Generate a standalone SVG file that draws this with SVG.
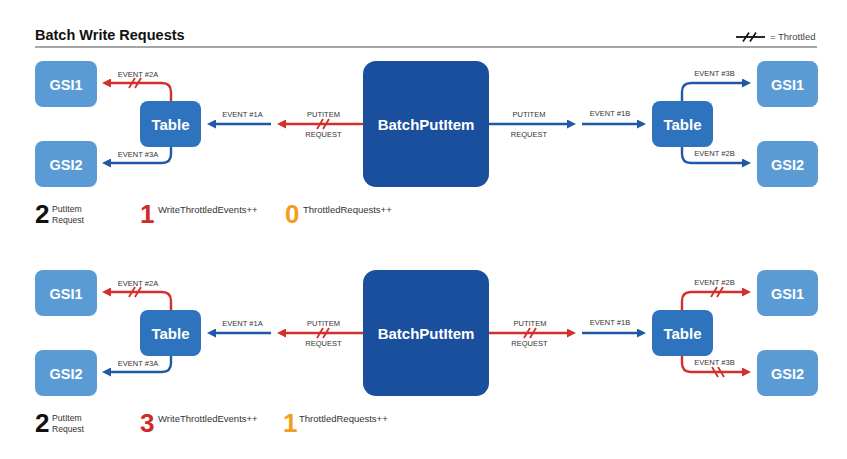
<svg xmlns="http://www.w3.org/2000/svg" width="847" height="459" viewBox="0 0 847 459">
<style>
.bg{fill:#ffffff}
.title{font-family:"Liberation Sans",Arial,sans-serif;font-size:14.5px;font-weight:bold;fill:#111}
.legend{font-family:"Liberation Sans",Arial,sans-serif;font-size:9.5px;fill:#444}
.gsi{fill:#5b9bd5}
.tbl{fill:#2e73bd}
.bpi{fill:#1a4f9d}
.nl{font-family:"Liberation Sans",Arial,sans-serif;font-weight:bold;fill:#ffffff;text-anchor:middle}
.sl{font-family:"Liberation Sans",Arial,sans-serif;font-size:7.5px;fill:#333;text-anchor:middle}
.blue{fill:none;stroke:#1f5aa6;stroke-width:2.4}
.red{fill:none;stroke:#d2302d;stroke-width:2.4}
.rs{stroke:#d2302d;stroke-width:1.8;fill:none}
.big{font-family:"Liberation Sans",Arial,sans-serif;font-size:26px;font-weight:bold}
.ct{font-family:"Liberation Sans",Arial,sans-serif;font-size:9.5px;fill:#333}
.ct2{font-family:"Liberation Sans",Arial,sans-serif;font-size:8.6px;fill:#333}
</style>
<defs>
<marker id="ab" viewBox="0 0 10 10" refX="4" refY="5" markerWidth="9" markerHeight="9" markerUnits="userSpaceOnUse" orient="auto"><path d="M0,0 L10,5 L0,10 z" fill="#1f5aa6"/></marker>
<marker id="ar" viewBox="0 0 10 10" refX="4" refY="5" markerWidth="9" markerHeight="9" markerUnits="userSpaceOnUse" orient="auto"><path d="M0,0 L10,5 L0,10 z" fill="#d2302d"/></marker>
</defs>
<rect class="bg" x="0" y="0" width="847" height="459"/>
<g id="header">
<text class="title" x="35" y="39.5">Batch Write Requests</text>
<line x1="35" y1="47" x2="817" y2="47" stroke="#8a8a8a" stroke-width="1.5"/>
<line x1="736" y1="37" x2="765" y2="37" stroke="#111" stroke-width="1.8"/>
<line x1="743" y1="41.5" x2="749" y2="32.5" stroke="#111" stroke-width="1.6"/>
<line x1="750" y1="41.5" x2="756" y2="32.5" stroke="#111" stroke-width="1.6"/>
<text class="legend" x="770" y="40">= Throttled</text>
</g>

<g id="row1">
<g id="r1-gsi1-left"><rect class="gsi" x="35" y="61" width="62" height="46" rx="8"/><text class="nl" x="66" y="89.5" font-size="14.5">GSI1</text></g>
<g id="r1-gsi2-left"><rect class="gsi" x="35" y="141" width="62" height="46" rx="8"/><text class="nl" x="66" y="169.5" font-size="14.5">GSI2</text></g>
<g id="r1-table-left"><rect class="tbl" x="140" y="101" width="61" height="46" rx="8"/><text class="nl" x="170.5" y="129.5" font-size="15">Table</text></g>
<g id="r1-batchputitem"><rect class="bpi" x="363" y="61" width="126" height="126" rx="13"/><text class="nl" x="426" y="129.5" font-size="15">BatchPutItem</text></g>
<g id="r1-table-right"><rect class="tbl" x="652" y="101" width="61" height="46" rx="8"/><text class="nl" x="682.5" y="129.5" font-size="15">Table</text></g>
<g id="r1-gsi1-right"><rect class="gsi" x="757" y="61" width="61" height="46" rx="8"/><text class="nl" x="787.5" y="89.5" font-size="14.5">GSI1</text></g>
<g id="r1-gsi2-right"><rect class="gsi" x="757" y="141" width="61" height="46" rx="8"/><text class="nl" x="787.5" y="169.5" font-size="14.5">GSI2</text></g>
<g id="r1-counters">
<text class="big" x="35" y="223" fill="#111">2</text>
<text class="ct2" x="52" y="212">PutItem</text>
<text class="ct2" x="52" y="222.5">Request</text>
<text class="big" x="140" y="223" fill="#cf2a27">1</text>
<text class="ct" x="158" y="212.5">WriteThrottledEvents++</text>
<text class="big" x="285" y="223" fill="#f39c1f">0</text>
<text class="ct" x="303" y="212.5">ThrottledRequests++</text>
</g>
</g>

<g id="row2" transform="translate(0,209)">
<g id="r2-gsi1-left"><rect class="gsi" x="35" y="61" width="62" height="46" rx="8"/><text class="nl" x="66" y="89.5" font-size="14.5">GSI1</text></g>
<g id="r2-gsi2-left"><rect class="gsi" x="35" y="141" width="62" height="46" rx="8"/><text class="nl" x="66" y="169.5" font-size="14.5">GSI2</text></g>
<g id="r2-table-left"><rect class="tbl" x="140" y="101" width="61" height="46" rx="8"/><text class="nl" x="170.5" y="129.5" font-size="15">Table</text></g>
<g id="r2-batchputitem"><rect class="bpi" x="363" y="61" width="126" height="126" rx="13"/><text class="nl" x="426" y="129.5" font-size="15">BatchPutItem</text></g>
<g id="r2-table-right"><rect class="tbl" x="652" y="101" width="61" height="46" rx="8"/><text class="nl" x="682.5" y="129.5" font-size="15">Table</text></g>
<g id="r2-gsi1-right"><rect class="gsi" x="757" y="61" width="61" height="46" rx="8"/><text class="nl" x="787.5" y="89.5" font-size="14.5">GSI1</text></g>
<g id="r2-gsi2-right"><rect class="gsi" x="757" y="141" width="61" height="46" rx="8"/><text class="nl" x="787.5" y="169.5" font-size="14.5">GSI2</text></g>
<g id="r2-counters">
<text class="big" x="35" y="223" fill="#111">2</text>
<text class="ct2" x="52" y="212">PutItem</text>
<text class="ct2" x="52" y="222.5">Request</text>
<text class="big" x="140" y="223" fill="#cf2a27">3</text>
<text class="ct" x="158" y="212.5">WriteThrottledEvents++</text>
<text class="big" x="283" y="223" fill="#f39c1f">1</text>
<text class="ct" x="299" y="212.5">ThrottledRequests++</text>
</g>
</g>

<g id="connectors">
<g id="c-row1">
<path class="red" d="M363,124 H282.4" marker-end="url(#ar)"/>
<line class="rs" x1="317" y1="129" x2="323" y2="119"/><line class="rs" x1="323" y1="129" x2="329" y2="119"/>
<text class="sl" x="323.5" y="117">PUTITEM</text><text class="sl" x="323.5" y="137">REQUEST</text>
<path class="blue" d="M271,124 H212.4" marker-end="url(#ab)"/>
<text class="sl" x="242.5" y="117">EVENT #1A</text>
<path class="red" d="M171,101 V92 Q171,83 162,83 H107.4" marker-end="url(#ar)"/>
<line class="rs" x1="129" y1="88" x2="135" y2="78"/><line class="rs" x1="135" y1="88" x2="141" y2="78"/>
<text class="sl" x="138" y="77">EVENT #2A</text>
<path class="blue" d="M171,147 V154 Q171,163 162,163 H107.4" marker-end="url(#ab)"/>
<text class="sl" x="138" y="156.5">EVENT #3A</text>
<path class="blue" d="M489,124 H570.6" marker-end="url(#ab)"/>
<text class="sl" x="529" y="116.5">PUTITEM</text><text class="sl" x="529" y="136.5">REQUEST</text>
<path class="blue" d="M582,124 H640.6" marker-end="url(#ab)"/>
<text class="sl" x="610" y="116">EVENT #1B</text>
<path class="blue" d="M682,101 V92 Q682,83 691,83 H745.6" marker-end="url(#ab)"/>
<text class="sl" x="714.5" y="76">EVENT #3B</text>
<path class="blue" d="M682,147 V154 Q682,163 691,163 H745.6" marker-end="url(#ab)"/>
<text class="sl" x="714.5" y="156">EVENT #2B</text>
</g>
<g id="c-row2" transform="translate(0,209)">
<path class="red" d="M363,124 H282.4" marker-end="url(#ar)"/>
<line class="rs" x1="317" y1="129" x2="323" y2="119"/><line class="rs" x1="323" y1="129" x2="329" y2="119"/>
<text class="sl" x="323.5" y="117">PUTITEM</text><text class="sl" x="323.5" y="137">REQUEST</text>
<path class="blue" d="M271,124 H212.4" marker-end="url(#ab)"/>
<text class="sl" x="242.5" y="117">EVENT #1A</text>
<path class="red" d="M171,101 V92 Q171,83 162,83 H107.4" marker-end="url(#ar)"/>
<line class="rs" x1="129" y1="88" x2="135" y2="78"/><line class="rs" x1="135" y1="88" x2="141" y2="78"/>
<text class="sl" x="138" y="77">EVENT #2A</text>
<path class="blue" d="M171,147 V154 Q171,163 162,163 H107.4" marker-end="url(#ab)"/>
<text class="sl" x="138" y="156.5">EVENT #3A</text>
<path class="red" d="M489,124 H570.6" marker-end="url(#ar)"/>
<line class="rs" x1="524" y1="129" x2="530" y2="119"/><line class="rs" x1="530" y1="129" x2="536" y2="119"/>
<text class="sl" x="530" y="116.5">PUTITEM</text><text class="sl" x="529.5" y="136.5">REQUEST</text>
<path class="blue" d="M582,124 H640.6" marker-end="url(#ab)"/>
<text class="sl" x="610" y="116">EVENT #1B</text>
<path class="red" d="M682,101 V92 Q682,83 691,83 H745.6" marker-end="url(#ar)"/>
<line class="rs" x1="711" y1="88" x2="717" y2="78"/><line class="rs" x1="717" y1="88" x2="723" y2="78"/>
<text class="sl" x="714.5" y="76">EVENT #2B</text>
<path class="red" d="M682,147 V154 Q682,163 691,163 H745.6" marker-end="url(#ar)"/>
<line class="rs" x1="712" y1="158" x2="718" y2="168"/><line class="rs" x1="718" y1="158" x2="724" y2="168"/>
<text class="sl" x="714.5" y="156">EVENT #3B</text>
</g>
</g>
</svg>
